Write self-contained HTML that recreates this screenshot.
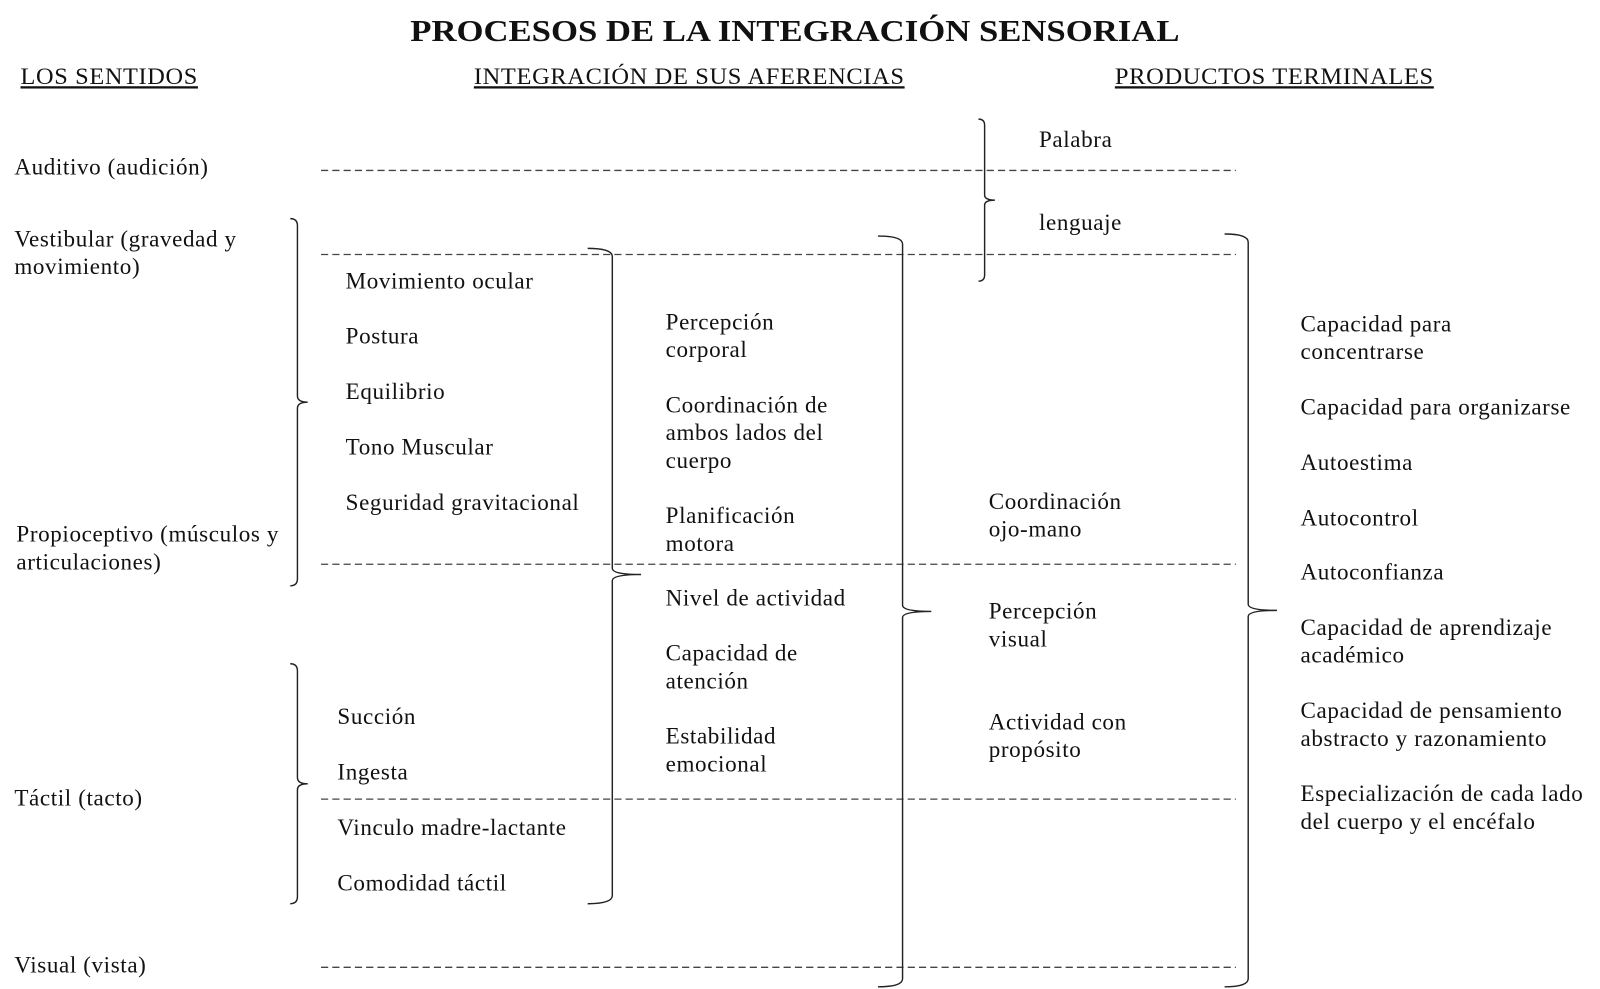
<!DOCTYPE html>
<html><head><meta charset="utf-8"><style>
html,body{margin:0;padding:0;background:#fff;width:1600px;height:989px;overflow:hidden}
svg{display:block}
text{font-family:"Liberation Serif",serif;font-size:22.5px;fill:#111;letter-spacing:0.6px}
.h{text-decoration:underline}
</style></head><body>
<svg width="1600" height="989" viewBox="0 0 1560 964" xmlns="http://www.w3.org/2000/svg">
<text x="775" y="40" text-anchor="middle" style="font-weight:bold;font-size:30px;letter-spacing:0" textLength="750" lengthAdjust="spacingAndGlyphs">PROCESOS DE LA INTEGRACIÓN SENSORIAL</text>
<text class="h" x="20" y="82" textLength="173" lengthAdjust="spacingAndGlyphs">LOS SENTIDOS</text>
<text class="h" x="462" y="82" textLength="420" lengthAdjust="spacingAndGlyphs">INTEGRACIÓN DE SUS AFERENCIAS</text>
<text class="h" x="1087" y="82" textLength="311" lengthAdjust="spacingAndGlyphs">PRODUCTOS TERMINALES</text>
<g stroke="#444" stroke-width="1.3" stroke-dasharray="7,4">
<line x1="313" y1="166" x2="1205" y2="166"/><line x1="313" y1="248" x2="1205" y2="248"/>
<line x1="313" y1="550" x2="1205" y2="550"/><line x1="313" y1="779" x2="1205" y2="779"/>
<line x1="313" y1="943" x2="1205" y2="943"/>
</g>
<g fill="none" stroke="#222" stroke-width="1.4">
<path d="M283 213 Q290 213 290 220 L290 386 Q290 392 300 392 Q290 392 290 398 L290 564 Q290 571 283 571"/>
<path d="M283 647 Q290 647 290 654 L290 758 Q290 764 300 764 Q290 764 290 770 L290 874 Q290 881 283 881"/>
<path d="M573 242 Q597 242 597 250 L597 554 Q597 560 625 560 Q597 560 597 566 L597 873 Q597 881 573 881"/>
<path d="M856 230 Q880 230 880 238 L880 590 Q880 596 908 596 Q880 596 880 602 L880 954 Q880 962 856 962"/>
<path d="M954 116 Q960 116 960 122 L960 190 Q960 195 970 195 Q960 195 960 200 L960 268 Q960 274 954 274"/>
<path d="M1194 228 Q1217 228 1217 236 L1217 589 Q1217 595 1245 595 Q1217 595 1217 601 L1217 954 Q1217 962 1194 962"/>
</g>
<text x="14" y="170">Auditivo (audición)</text>
<text x="14" y="240">Vestibular (gravedad y</text><text x="14" y="267">movimiento)</text>
<text x="16" y="528">Propioceptivo (músculos y</text><text x="16" y="555">articulaciones)</text>
<text x="14" y="785">Táctil (tacto)</text>
<text x="14" y="948">Visual (vista)</text>
<text x="337" y="281">Movimiento ocular</text><text x="337" y="335">Postura</text>
<text x="337" y="389">Equilibrio</text><text x="337" y="443">Tono Muscular</text>
<text x="337" y="497">Seguridad gravitacional</text>
<text x="329" y="706">Succión</text><text x="329" y="760">Ingesta</text>
<text x="329" y="814">Vinculo madre-lactante</text><text x="329" y="868">Comodidad táctil</text>
<text x="649" y="321">Percepción</text><text x="649" y="348">corporal</text>
<text x="649" y="402">Coordinación de</text><text x="649" y="429">ambos lados del</text><text x="649" y="456">cuerpo</text>
<text x="649" y="510">Planificación</text><text x="649" y="537">motora</text>
<text x="649" y="590">Nivel de actividad</text>
<text x="649" y="644">Capacidad de</text><text x="649" y="671">atención</text>
<text x="649" y="725">Estabilidad</text><text x="649" y="752">emocional</text>
<text x="964" y="496">Coordinación</text><text x="964" y="523">ojo-mano</text>
<text x="964" y="603">Percepción</text><text x="964" y="630">visual</text>
<text x="964" y="711">Actividad con</text><text x="964" y="738">propósito</text>
<text x="1013" y="143">Palabra</text><text x="1013" y="224">lenguaje</text>
<text x="1268" y="323">Capacidad para</text><text x="1268" y="350">concentrarse</text>
<text x="1268" y="404">Capacidad para organizarse</text>
<text x="1268" y="458">Autoestima</text><text x="1268" y="512">Autocontrol</text>
<text x="1268" y="565">Autoconfianza</text>
<text x="1268" y="619">Capacidad de aprendizaje</text><text x="1268" y="646">académico</text>
<text x="1268" y="700">Capacidad de pensamiento</text><text x="1268" y="727">abstracto y razonamiento</text>
<text x="1268" y="781">Especialización de cada lado</text><text x="1268" y="808">del cuerpo y el encéfalo</text>
</svg>
</body></html>
